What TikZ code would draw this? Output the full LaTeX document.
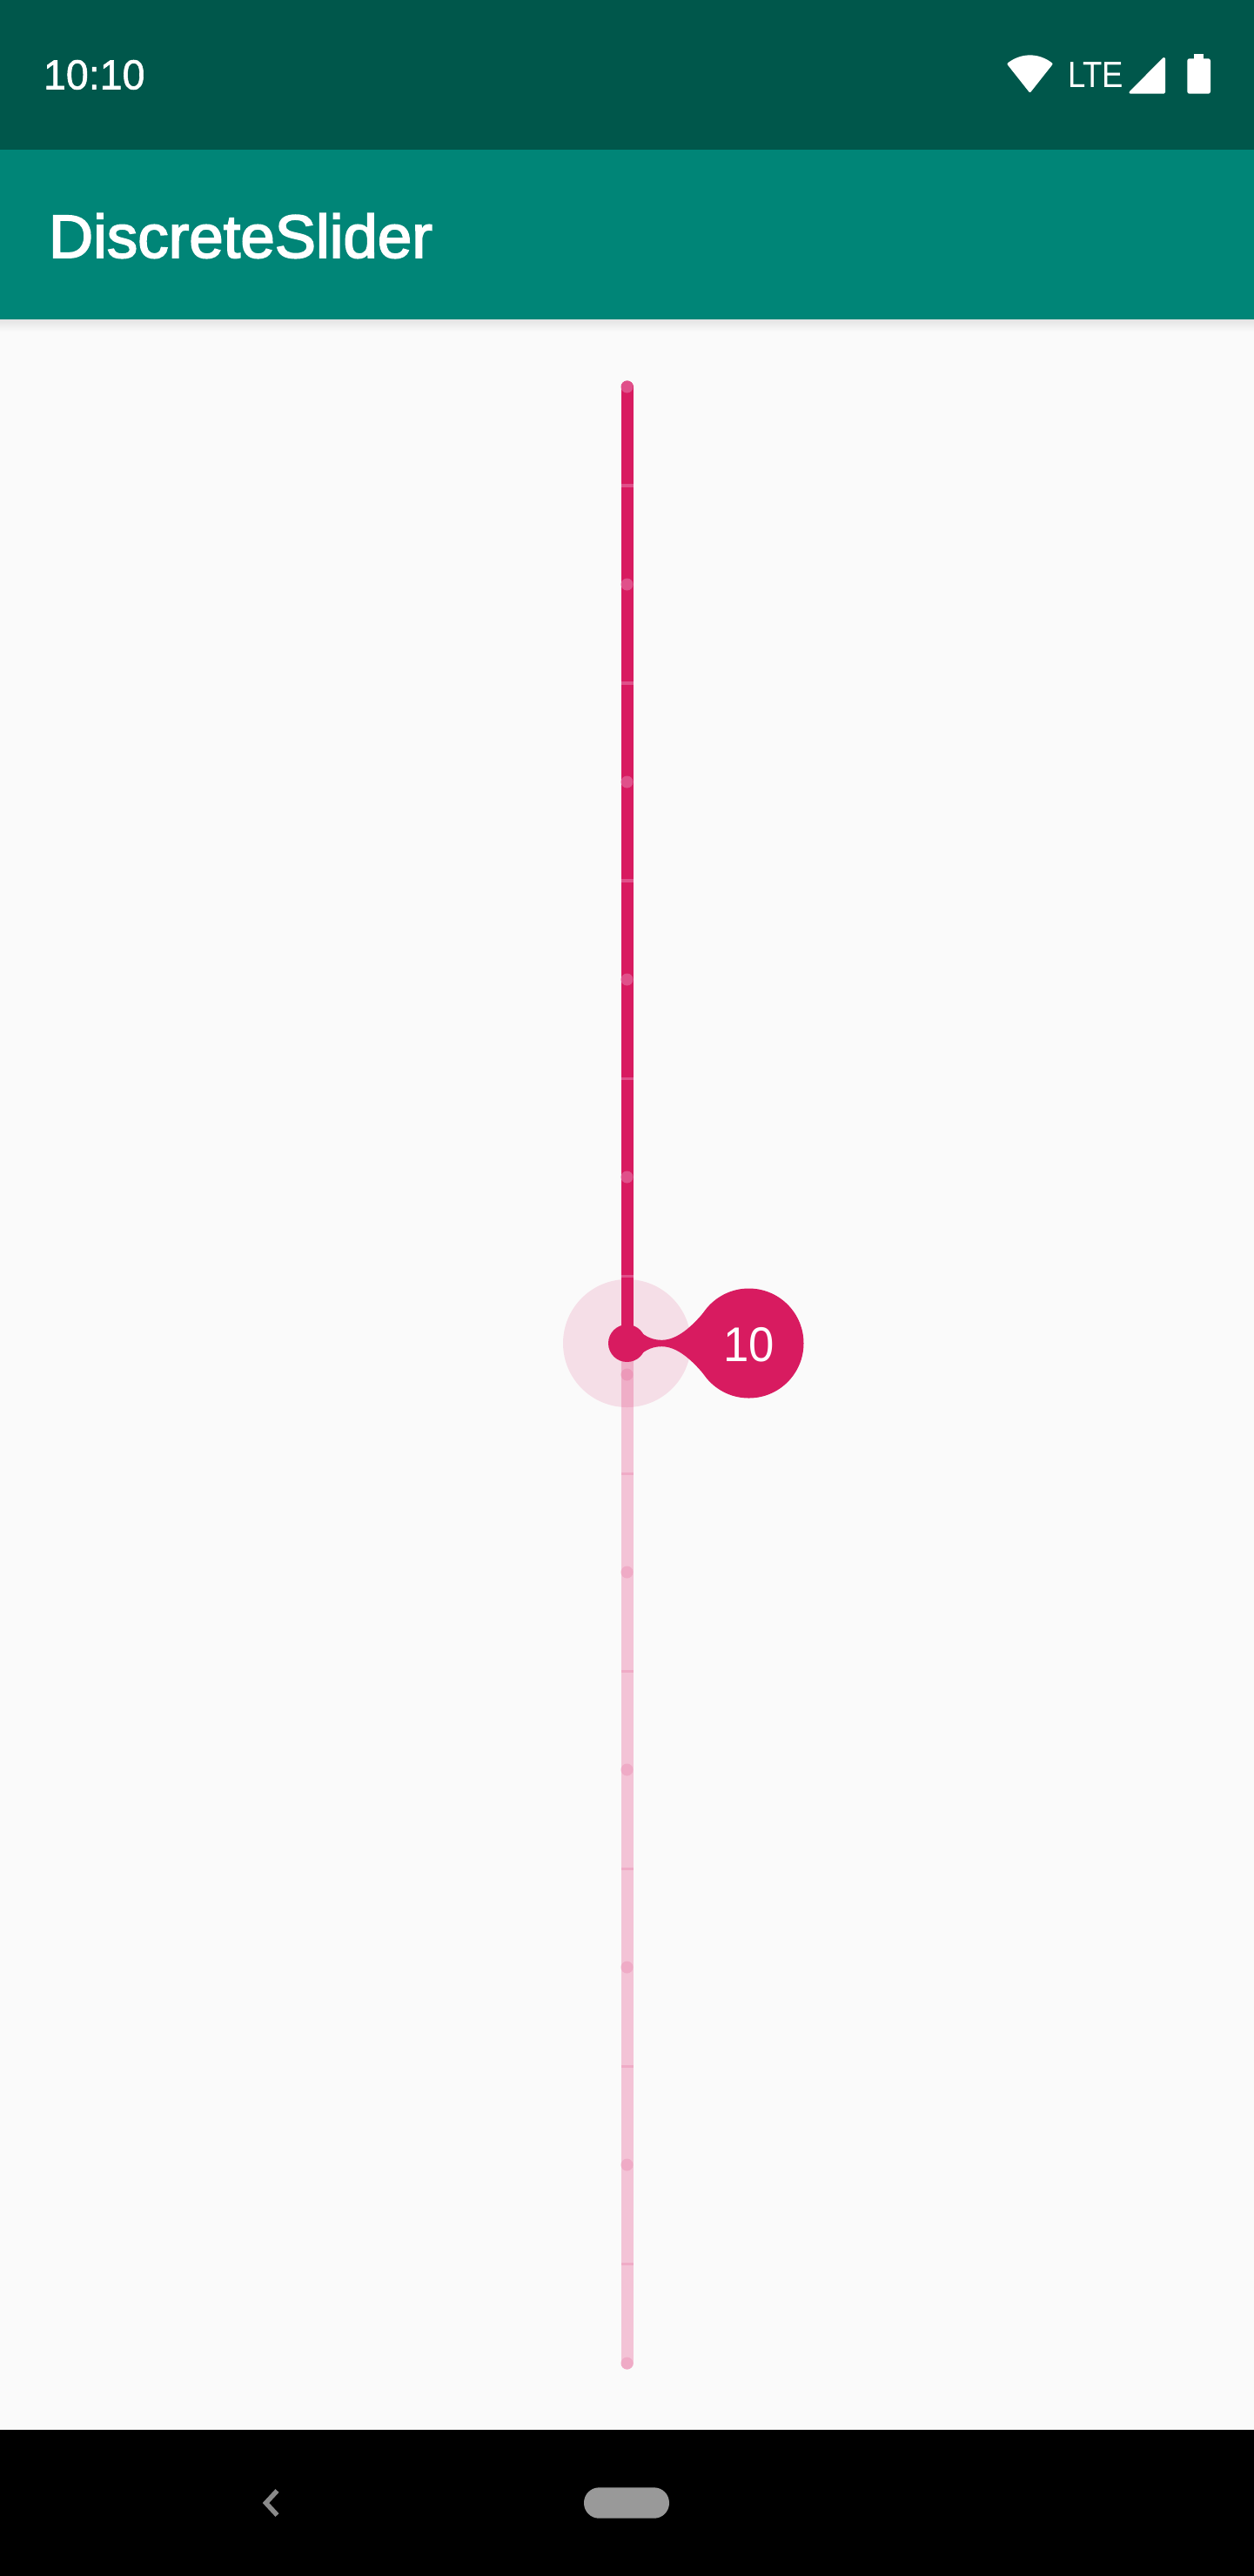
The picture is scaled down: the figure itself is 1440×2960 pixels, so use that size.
\documentclass[tikz,border=0pt]{standalone}
\usepackage{fontspec}
\usepackage{graphicx}
\setmainfont{Liberation Sans}
\newfontfamily\titlefont[RawFeature={embolden=2.5}]{Liberation Sans}
\newfontfamily\clockfont[RawFeature={embolden=1.2}]{Liberation Sans}
\definecolor{statusgreen}{HTML}{00574B}
\definecolor{bargreen}{HTML}{008577}
\definecolor{accent}{HTML}{D81B60}
\definecolor{pagebg}{HTML}{FAFAFA}
\definecolor{trackoff}{HTML}{F3C3D6}
\definecolor{markon}{HTML}{E0508A}
\definecolor{markoff}{HTML}{EFABC6}
\definecolor{navgrey}{HTML}{999999}
\tikzset{
  label text/.style={text=white,inner sep=0pt,outer sep=0pt,anchor=base west},
  white icon/.style={fill=white,draw=white,line width=3pt,line join=round},
}
\begin{document}
\begin{tikzpicture}[x=1pt,y=-1pt]
\useasboundingbox (0,0) rectangle (1440,2960);
% backgrounds
\fill[pagebg] (-2,-2) rectangle (1442,2962);
\fill[statusgreen] (-2,-2) rectangle (1442,171.5);
\fill[bargreen] (-2,171.5) rectangle (1442,367);
\shade[top color=black!9!pagebg,bottom color=pagebg] (-2,367) rectangle (1442,381);
\fill[black] (-2,2792) rectangle (1442,2962);
% status bar
\node[label text] (clock) at (50,102.5) {\clockfont\fontsize{48}{48}\selectfont\scalebox{0.97}[1]{10:10}};
\path[white icon] (1183.5,104.5) -- (1159,73.5) .. controls (1174,62) and (1193,62) .. (1208,73.5) -- cycle;
\node[label text] (lte) at (1227,100.3) {\fontsize{42}{42}\selectfont\scalebox{0.87}[1]{LTE}};
\path[white icon] (1299,106.2) -- (1337.5,67.5) -- (1337.5,106.2) -- cycle;
\fill[white,rounded corners=2.5pt] (1364.3,67.3) rectangle (1391,107.7);
\fill[white] (1372,62) rectangle (1383.3,70);
% app bar
\node[label text] (title) at (56,296) {\titlefont\fontsize{70}{70}\selectfont\scalebox{1.012}[1]{DiscreteSlider}};
\begin{scope}[shift={(0.5,0.5)}]
% inactive part of the track
\draw[trackoff,line width=14pt,line cap=round] (720,1543) -- (720,2715);
\foreach \y in {1693,1920,2147,2374,2601}
  \fill[markoff] (713,\y-1.8) rectangle (727,\y+1.8);
\foreach \y in {1579,1806,2033,2260,2487,2715}
  \fill[markoff] (720,\y) circle (7pt);
% halo
\fill[accent,opacity=0.12] (720,1543) circle (73.5pt);
% active part of the track
\draw[accent,line width=14pt,line cap=round] (720,444) -- (720,1543);
\foreach \y in {557.5,784.6,1011.7,1238.8,1465.9}
  \fill[markon] (713,\y-1.8) rectangle (727,\y+1.8);
\foreach \y in {444,671,898,1125,1352}
  \fill[markon] (720,\y) circle (7pt);
% thumb and value bubble
\fill[accent] (720,1543) circle (21.5pt);
\fill[accent] (860,1543) circle (63pt);
\fill[accent] (733,1528) .. controls (742,1536) and (750,1539.3) .. (760,1539.3)
  .. controls (778,1539.3) and (795,1523) .. (808.3,1507.3)
  -- (808.3,1578.7)
  .. controls (795,1563) and (778,1546.7) .. (760,1546.7)
  .. controls (750,1546.7) and (742,1550) .. (733,1558) -- cycle;
\node[label text] (value) at (831,1563.5) {\fontsize{56}{56}\selectfont\scalebox{0.94}[1]{10}};
\end{scope}
% navigation bar
\draw[navgrey!90!black,line width=5.5pt] (318.5,2862) -- (305.5,2876) -- (318.5,2890);
\fill[navgrey,rounded corners=17.5pt] (671,2858.3) rectangle (769,2893.7);
\end{tikzpicture}
\end{document}
